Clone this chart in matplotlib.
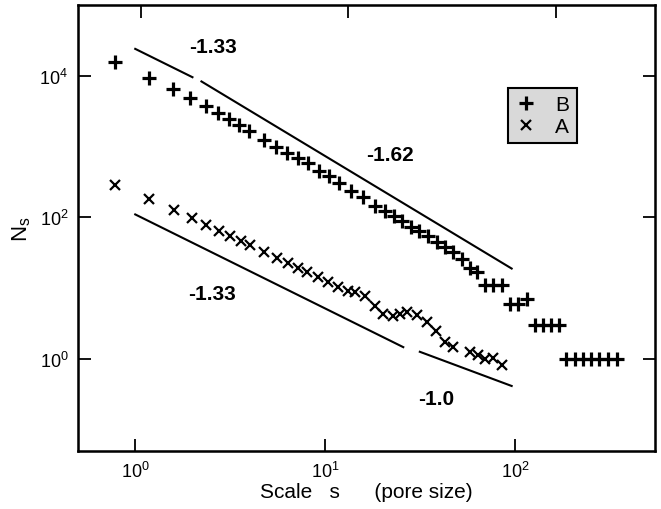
import numpy as np
import matplotlib
matplotlib.use("Agg")
import matplotlib.pyplot as plt

plt.rcParams['font.family'] = ['Liberation Sans', 'DejaVu Sans']
plt.rcParams['mathtext.fontset'] = 'custom'
plt.rcParams['mathtext.rm'] = 'Liberation Sans'
plt.rcParams['mathtext.it'] = 'Liberation Sans:italic'
plt.rcParams['mathtext.bf'] = 'Liberation Sans:bold'

# sample B (plus markers)
s_B = [0.78, 1.18, 1.58, 1.95, 2.37, 2.73, 3.1, 3.5, 3.95,
       4.76, 5.53, 6.32, 7.14, 8.06, 9.24, 10.4, 11.8,
       13.7, 15.8, 18.2, 20.6, 22.9, 25.3, 28.2, 31.2, 34.6, 38.5, 42.5, 47.2, 52.1,
       57.6, 62.7, 69.1, 76.4, 84.6, 93.6, 103.5, 114.5,
       126.7, 140, 153.7, 170, 184.5, 204.5, 226.6, 249.6, 276.7, 306.9, 341]
N_B = [15770, 9270, 6490, 4800, 3700, 2975, 2445, 2012, 1683,
       1248, 994, 809, 681, 585, 455, 387, 305,
       238, 192, 146, 124, 104, 90, 73, 65, 54.4, 45.5, 38.1, 32, 26,
       19, 17, 11, 11, 11, 6, 6, 7,
       3, 3, 3, 3, 1, 1, 1, 1, 1, 1, 1]

# sample A (cross markers)
s_A = [0.78, 1.18, 1.59, 1.98, 2.37, 2.76, 3.14, 3.58, 4.0,
       4.74, 5.57, 6.37, 7.19, 8.03, 9.17, 10.3, 11.7,
       13.1, 14.3, 16.1, 18.2, 20.2, 22.7, 24.7, 26.8, 30.2, 34.1, 38.3, 42.6, 46.7,
       57.6, 63.7, 69.1, 76.4, 84.6]
N_A = [289, 181, 128, 97.7, 78.6, 64.7, 53.9, 46.7, 40.6,
       32.1, 26.6, 22.4, 19.0, 16.7, 14.2, 12.3, 10.5,
       9.19, 8.73, 7.66, 5.58, 4.31, 4.0, 4.31, 4.55, 4.17, 3.35, 2.5, 1.71, 1.46,
       1.26, 1.135, 1.0, 1.02, 0.82]

# power-law guide lines: (s_start, s_end, prefactor, exponent)
guides = [
    (1.0, 2.0, 2.4e4, -1.33),
    (2.23, 95.5, 3.05e4, -1.62),
    (1.0, 25.7, 110, -1.33),
    (31.4, 95.5, 39.6, -1.0),
]

fig = plt.figure(figsize=(6.61, 5.10), dpi=100)
ax = fig.add_axes([78/661, 58/510, 577/661, 446/510])

for s0, s1, c, k in guides:
    s = np.array([s0, s1])
    ax.plot(s, c * s**k, color='black', lw=1.5)

ax.plot(s_B, N_B, linestyle='none', marker='+', ms=9.5, mew=2.3,
        color='black', label='B')
ax.plot(s_A, N_A, linestyle='none', marker='x', ms=6.5, mew=1.6,
        color='black', label='A')

ax.set_xscale('log')
ax.set_yscale('log')
ax.set_xlim(0.5, 542)
ax.set_ylim(0.05, 1e5)
ax.set_xticks([1, 10, 100])
ax.set_yticks([1, 100, 1e4])
ax.minorticks_off()
ax.tick_params(direction='in', length=9, width=1.3, labelsize=13,
               right=True, pad=7)
for sp in ax.spines.values():
    sp.set_linewidth(1.8)

# top axis carries its own decade ticks
top = ax.twiny()
top.set_xscale('log')
top.set_xlim(0.5, 300)
top.set_xticks([1, 10, 100])
top.minorticks_off()
top.tick_params(direction='in', length=9, width=1.3, labeltop=False)

ax.set_xlabel('Scale   s      (pore size)', fontsize=15, labelpad=1)
ax.set_ylabel(r'N$_{\mathrm{s}}$', fontsize=16, labelpad=5)

tkw = dict(transform=ax.transAxes, fontsize=15, fontweight='bold',
           ha='center', va='center')
ax.text(0.234, 0.906, '-1.33', **tkw)
ax.text(0.541, 0.664, '-1.62', **tkw)
ax.text(0.232, 0.354, '-1.33', **tkw)
ax.text(0.620, 0.117, '-1.0', **tkw)

leg = ax.legend(loc='upper left', bbox_to_anchor=(0.746, 0.815),
                fontsize=15, frameon=True, fancybox=False,
                handlelength=1.0, handletextpad=0.9, borderpad=0.35,
                labelspacing=0.15, borderaxespad=0)
leg.get_frame().set_facecolor('#d9d9d9')
leg.get_frame().set_edgecolor('black')
leg.get_frame().set_linewidth(1.5)
leg.get_frame().set_alpha(1)

fig.savefig('out.png', dpi=100)
